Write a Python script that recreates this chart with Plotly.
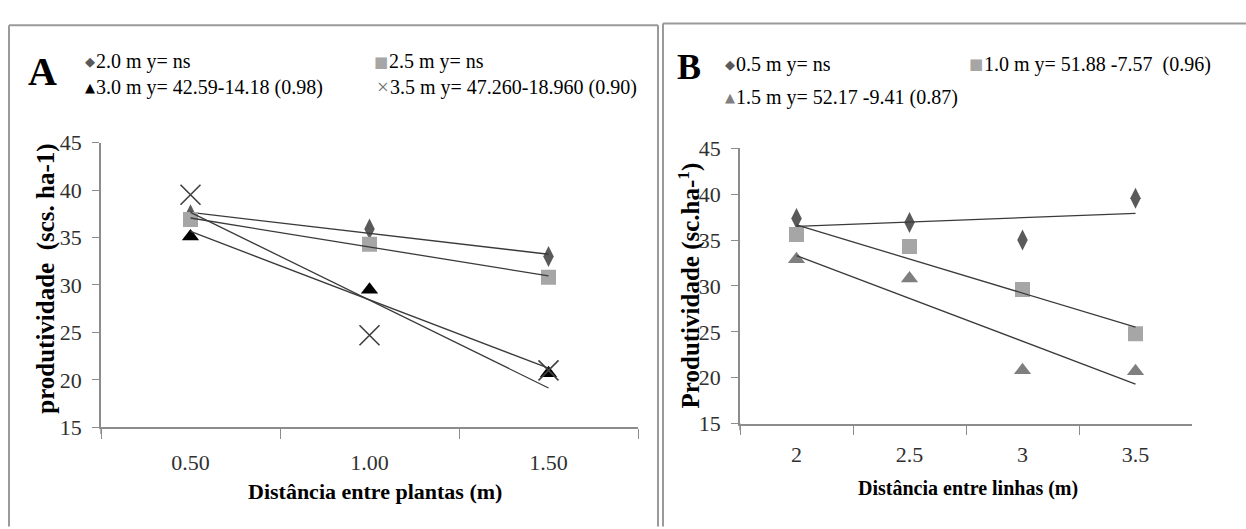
import numpy as np
import plotly.graph_objects as go

W, H = 1246, 529

# ---------------- data ----------------
# Panel A: spacing between plants (m), one series per row spacing
dist_plantas = ["0.50", "1.00", "1.50"]
a_2_0 = [37.4, 35.9, 33.0]
a_2_5 = [36.9, 34.3, 30.8]
a_3_0 = [35.1, 29.5, 20.7]
a_3_5 = [39.5, 24.7, 21.0]

# Panel B: spacing between rows (m), one series per plant spacing
dist_linhas = ["2", "2.5", "3", "3.5"]
b_0_5 = [37.35, 36.9, 35.0, 39.55]
b_1_0 = [35.6, 34.3, 29.6, 24.8]
b_1_5 = [32.9, 30.8, 20.8, 20.7]

y_ticks = [15, 20, 25, 30, 35, 40, 45]

leg_a = ["2.0 m y= ns", "2.5 m y= ns",
         "3.0 m y= 42.59-14.18 (0.98)", "3.5 m y= 47.260-18.960 (0.90)"]
leg_b = ["0.5 m y= ns", "1.0 m y= 51.88 -7.57  (0.96)", "1.5 m y= 52.17 -9.41 (0.87)"]

# ---------------- helpers ----------------
def px(x):
    return x / W

def py(y):
    return 1 - y / H

SERIF = "Liberation Serif, Times New Roman, Times, serif"
LINE_C = "#3a3a3a"
DIA_C = "#5a5a5a"
SQ_C = "#a6a6a6"
TRI_A = "#000000"
TRI_B = "#7f7f7f"
X_C = "#404040"

def trend(cats, vals):
    idx = np.arange(1, len(vals) + 1)
    m, b = np.polyfit(idx, vals, 1)
    return [cats[0], cats[-1]], [m * idx[0] + b, m * idx[-1] + b]

fig = go.Figure()

def add_series(cats, vals, xa, ya, symbol, color, size, line_w=0):
    mk = dict(symbol=symbol, size=size, color=color)
    if line_w:
        mk["line"] = dict(color=color, width=line_w)
    else:
        mk["line"] = dict(width=0)
    fig.add_trace(go.Scatter(x=cats, y=vals, mode="markers", xaxis=xa, yaxis=ya,
                             marker=mk, showlegend=False))
    tx, ty = trend(cats, vals)
    fig.add_trace(go.Scatter(x=tx, y=ty, mode="lines", xaxis=xa, yaxis=ya,
                             line=dict(color=LINE_C, width=1.3), showlegend=False,
                             hoverinfo="skip"))

# Panel A
add_series(dist_plantas, a_2_0, "x", "y", "diamond-tall", DIA_C, 15)
add_series(dist_plantas, a_2_5, "x", "y", "square", SQ_C, 15)
add_series(dist_plantas, a_3_0, "x", "y", "triangle-up", TRI_A, 15)
add_series(dist_plantas, a_3_5, "x", "y", "x-thin", X_C, 20, line_w=1.6)

# Panel B
add_series(dist_linhas, b_0_5, "x2", "y2", "diamond-tall", DIA_C, 15)
add_series(dist_linhas, b_1_0, "x2", "y2", "square", SQ_C, 15)
add_series(dist_linhas, b_1_5, "x2", "y2", "triangle-up", TRI_B, 15)

AX_C = "#8c8c8c"
tickfont = dict(family=SERIF, size=22, color="#303030")

xcommon = dict(type="category", showgrid=False, zeroline=False, showline=True,
               linecolor=AX_C, linewidth=1.6, ticks="outside", ticklen=10,
               tickcolor=AX_C, tickwidth=1.2, tickson="boundaries",
               tickfont=tickfont, fixedrange=True, categoryorder="array")
ycommon = dict(range=[15, 45], tickvals=y_ticks, showgrid=False, zeroline=False,
               showline=True, linecolor=AX_C, linewidth=1.6, ticks="outside",
               ticklen=7, tickcolor=AX_C, tickwidth=1.2, tickfont=tickfont,
               ticklabelstandoff=6, fixedrange=True)

XA_DOM = [px(101), px(638)]
YA_DOM = [py(436), py(137)]
XB_DOM = [px(740), px(1192)]
YB_DOM = [py(432), py(143)]

fig.update_layout(
    width=W, height=H,
    margin=dict(l=0, r=0, t=0, b=0),
    paper_bgcolor="white", plot_bgcolor="white",
    showlegend=False,
    font=dict(family=SERIF),
    xaxis=dict(domain=XA_DOM, anchor="y", ticklabelstandoff=14,
               categoryarray=dist_plantas, range=[-0.5, len(dist_plantas) - 0.5], **xcommon),
    yaxis=dict(domain=YA_DOM, anchor="x", **ycommon),
    xaxis2=dict(domain=XB_DOM, anchor="y2", ticklabelstandoff=10,
                categoryarray=dist_linhas, range=[-0.5, len(dist_linhas) - 0.5], **xcommon),
    yaxis2=dict(domain=YB_DOM, anchor="x2", **ycommon),
)

# panel frames + small extension of the value axis below the category axis (Excel style)
FR_C = "#9a9a9a"
shapes = [
    dict(type="line", xref="paper", yref="paper", x0=px(9), x1=px(9), y0=py(14), y1=py(540)),
    dict(type="line", xref="paper", yref="paper", x0=px(9), x1=px(658), y0=py(14), y1=py(14)),
    dict(type="line", xref="paper", yref="paper", x0=px(658), x1=px(658), y0=py(14), y1=py(540)),
    dict(type="line", xref="paper", yref="paper", x0=px(663), x1=px(663), y0=py(12), y1=py(540)),
    dict(type="line", xref="paper", yref="paper", x0=px(663), x1=px(1250), y0=py(12), y1=py(12)),
]
for s in shapes:
    s["line"] = dict(color=FR_C, width=2)
for xd, yd in ((XA_DOM, YA_DOM), (XB_DOM, YB_DOM)):
    shapes.append(dict(type="line", xref="paper", yref="paper", x0=xd[0], x1=xd[0],
                       y0=yd[0], y1=yd[0] - 7 / H, line=dict(color=AX_C, width=1.4)))
fig.update_layout(shapes=shapes)

ann = []

def txt(x, y, text, size, bold=False, anchor="left", color="#000000", angle=0, family=SERIF):
    t = "<b>%s</b>" % text if bold else text
    ann.append(dict(x=px(x), y=py(y), xref="paper", yref="paper", text=t,
                    showarrow=False, xanchor=anchor, yanchor="middle", textangle=angle,
                    borderpad=0, borderwidth=0,
                    font=dict(family=family, size=size, color=color)))

def leg(tx, y, sym, scol, ssize, text, size, sfam="DejaVu Sans"):
    # marker glyph sits immediately left of the text
    txt(tx - 2, y, sym, ssize, anchor="right", color=scol, family=sfam)
    txt(tx - 1, y, text, size)

# Panel letters
txt(42, 62, "A", 40, bold=True, anchor="center")
txt(689, 58, "B", 36, bold=True, anchor="center")

# Panel A legend
leg(97, 52, "◆", DIA_C, 13, leg_a[0], 20)
leg(390, 52, "■", SQ_C, 15, leg_a[1], 20)
leg(97, 79, "▲", TRI_A, 13, leg_a[2], 20)
leg(391, 79, "×", "#707070", 21, leg_a[3], 20, sfam=SERIF)

# Panel B legend
leg(737, 55, "◆", DIA_C, 13, leg_b[0], 20)
leg(985, 55, "■", SQ_C, 15, leg_b[1], 20)
leg(737, 90, "▲", TRI_B, 13, leg_b[2], 20)

# Axis titles
txt(46, 280, "produtividade  (scs. ha-1)", 25, bold=True, anchor="center", angle=-90)
txt(689, 287, "Produtividade (sc.ha-<sup>1</sup>)", 25, bold=True, anchor="center", angle=-90)
txt(375, 503, "Distância entre plantas (m)", 22, bold=True, anchor="center")
txt(968, 500, "Distância entre linhas (m)", 20, bold=True, anchor="center")

fig.update_layout(annotations=ann)

fig.write_html("out.html",
               config={"displayModeBar": False},
               post_script="document.body.style.margin='0';document.body.style.overflow='hidden';")
